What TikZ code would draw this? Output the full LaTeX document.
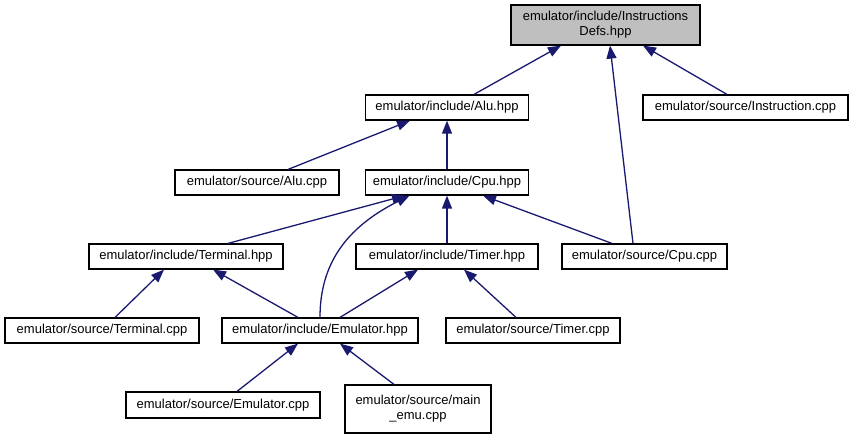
\documentclass[tikz,border=0pt]{standalone}
\usepackage{fontspec}
\setmainfont{Liberation Sans}
\usetikzlibrary{arrows.meta}
\definecolor{edgeblue}{RGB}{25,25,112}
\definecolor{rootgray}{RGB}{191,191,191}
\tikzset{
  filebox/.style={draw=black, line width=1.2pt, fill=white, inner sep=0pt, minimum height=25pt, align=center, font=\fontsize{13}{15}\selectfont},
  incl/.style={draw=edgeblue, line width=1.3pt, -{Triangle[length=13pt,width=10pt]}, edgeblue},
}
\begin{document}
\begin{tikzpicture}[x=1pt,y=-1pt]
\useasboundingbox (0,0) rectangle (853,440);
\node[filebox, fill=rootgray, minimum width=189pt, minimum height=40pt] (instr) at (605.5,25) {emulator/include/Instructions\\Defs.hpp};
\node[filebox, minimum width=163pt] (alu) at (447,107.5) {emulator/include/Alu.hpp};
\node[filebox, minimum width=205pt] (instrcpp) at (745.5,107.5) {emulator/source/Instruction.cpp};
\node[filebox, minimum width=164pt] (alucpp) at (257,182.5) {emulator/source/Alu.cpp};
\node[filebox, minimum width=163pt] (cpu) at (447,182.5) {emulator/include/Cpu.hpp};
\node[filebox, minimum width=194pt] (termh) at (186,256.5) {emulator/include/Terminal.hpp};
\node[filebox, minimum width=182pt] (timerh) at (447,256.5) {emulator/include/Timer.hpp};
\node[filebox, minimum width=165pt] (cpucpp) at (644.5,256.5) {emulator/source/Cpu.cpp};
\node[filebox, minimum width=194pt] (termcpp) at (102,330.5) {emulator/source/Terminal.cpp};
\node[filebox, minimum width=196pt] (emuh) at (320,330.5) {emulator/include/Emulator.hpp};
\node[filebox, minimum width=174pt] (timercpp) at (533,330.5) {emulator/source/Timer.cpp};
\node[filebox, minimum width=194pt, minimum height=26pt] (emucpp) at (223,405) {emulator/source/Emulator.cpp};
\node[filebox, minimum width=146pt, minimum height=48pt] (maincpp) at (418,409) {emulator/source/main\\\_emu.cpp};

\draw[incl] ([xshift=27pt]alu.north) -- ([xshift=-44.5pt]instr.south);
\draw[incl] ([xshift=-18.5pt]instrcpp.north) -- ([xshift=37.5pt]instr.south);
\draw[incl] ([xshift=-11.5pt]cpucpp.north) -- ([xshift=4.5pt]instr.south);
\draw[incl] ([xshift=31pt]alucpp.north) -- ([xshift=-37pt]alu.south);
\draw[incl] (cpu.north) -- (alu.south);
\draw[incl] ([xshift=42pt]termh.north) -- ([xshift=-42pt]cpu.south);
\draw[incl] (emuh.north) .. controls (320,265) and (345,228) .. ([xshift=-37.5pt]cpu.south);
\draw[incl] (timerh.north) -- (cpu.south);
\draw[incl] ([xshift=-32.5pt]cpucpp.north) -- ([xshift=36pt]cpu.south);
\draw[incl] ([xshift=13pt]termcpp.north) -- ([xshift=-22pt]termh.south);
\draw[incl] ([xshift=-22pt]emuh.north) -- ([xshift=27pt]termh.south);
\draw[incl] ([xshift=20pt]emuh.north) -- ([xshift=-29pt]timerh.south);
\draw[incl] ([xshift=-17pt]timercpp.north) -- ([xshift=17pt]timerh.south);
\draw[incl] ([xshift=14pt]emucpp.north) -- ([xshift=-22pt]emuh.south);
\draw[incl] ([xshift=-24pt]maincpp.north) -- ([xshift=20pt]emuh.south);
\end{tikzpicture}
\end{document}
